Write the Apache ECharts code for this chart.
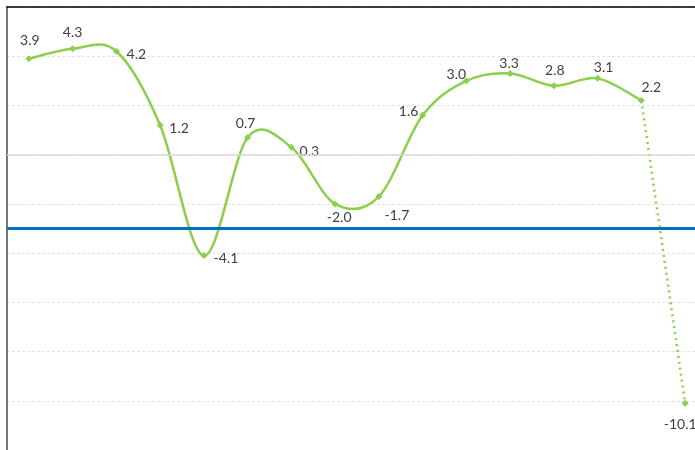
<!DOCTYPE html>
<html><head><meta charset="utf-8">
<script src="https://cdn.jsdelivr.net/npm/echarts@6/dist/echarts.min.js"></script>
<style>html,body{margin:0;padding:0;background:#fff;overflow:hidden}#c{width:712px;height:450px}</style>
</head><body><div id="c"></div>
<script>
const categories = ['1','2','3','4','5','6','7','8','9','10','11','12','13','14','15','16'];
const values = [3.9, 4.3, 4.2, 1.2, -4.1, 0.7, 0.3, -2.0, -1.7, 1.6, 3.0, 3.3, 2.8, 3.1, 2.2, -10.1];
const referenceLevel = -3;
const solidCount = 15; // first 15 points joined by a smooth solid line, last segment dotted

// label placement style (per point): [offsetX, offsetY]
const labelOffsets = [
  [1,-18],[0,-16],[20,3],[19,3],[22,3],[-2,-14],[18,4],[4,14],[18,19],[-14,-4],
  [-10,-6],[-1,-10],[1,-15],[6,-11],[10,-13],[-5,21]
];
const green = '#8ccf4d';

const pointData = values.map((v,i)=>({value:v, label:{offset:labelOffsets[i]}}));
const dotData = values.map((v,i)=> i>=solidCount-1 ? v : null);
const segIdx = values.map((v,i)=>i).slice(0, solidCount-1);

const labelBase = {show:true, position:'inside', color:'#404040', fontSize:14,
  fontFamily:'Lato', formatter:p=>p.value.toFixed(1)};

function renderSegment(params, api){
  const i = api.value(0);
  const n = solidCount;
  const P = k => api.coord([Math.max(0, Math.min(n-1, k)), values[Math.max(0, Math.min(n-1, k))]]);
  const p0 = P(i-1), p1 = P(i), p2 = P(i+1), p3 = P(i+2);
  const t = 1/6;
  return {
    type:'bezierCurve',
    shape:{x1:p1[0], y1:p1[1], x2:p2[0], y2:p2[1],
      cpx1:p1[0]+(p2[0]-p0[0])*t, cpy1:p1[1]+(p2[1]-p0[1])*t,
      cpx2:p2[0]-(p3[0]-p1[0])*t, cpy2:p2[1]-(p3[1]-p1[1])*t},
    style:{stroke:green, lineWidth:2.5, fill:null}
  };
}

const chart = echarts.init(document.getElementById('c'));
chart.setOption({
  animation:false,
  grid:{left:7, top:7, width:700, height:446, containLabel:false},
  xAxis:{type:'category', data:categories, position:'top', boundaryGap:true,
    axisLine:{show:true, onZero:false, lineStyle:{color:'#000', width:1.5}}, axisTick:{show:false}, axisLabel:{show:false}, splitLine:{show:false}},
  yAxis:{type:'value', min:-12, max:6, interval:2,
    axisLine:{show:true, lineStyle:{color:'#777', width:2}}, axisTick:{show:false}, axisLabel:{show:false},
    splitLine:{show:true, lineStyle:{color:'#e2e2e2', type:[3,2], width:1}}},
  series:[
    {type:'custom', data:segIdx.map(i=>[i]), renderItem:renderSegment, z:2, silent:true,
     encode:{x:0}},
    {type:'line', data:pointData,
     symbol:'diamond', symbolSize:7, showSymbol:true,
     lineStyle:{opacity:0}, itemStyle:{color:green},
     label:labelBase, z:4,
     markLine:{silent:true, symbol:'none', label:{show:false},
       data:[
         {yAxis:0, lineStyle:{color:'#d9d9d9', type:'solid', width:1.5}},
         {yAxis:referenceLevel, lineStyle:{color:'#0070c0', type:'solid', width:3}}
       ]}},
    {type:'line', data:dotData, smooth:false, showSymbol:false,
     lineStyle:{color:green, width:2.5, type:[2,4]}, z:3}
  ]
});
</script></body></html>
